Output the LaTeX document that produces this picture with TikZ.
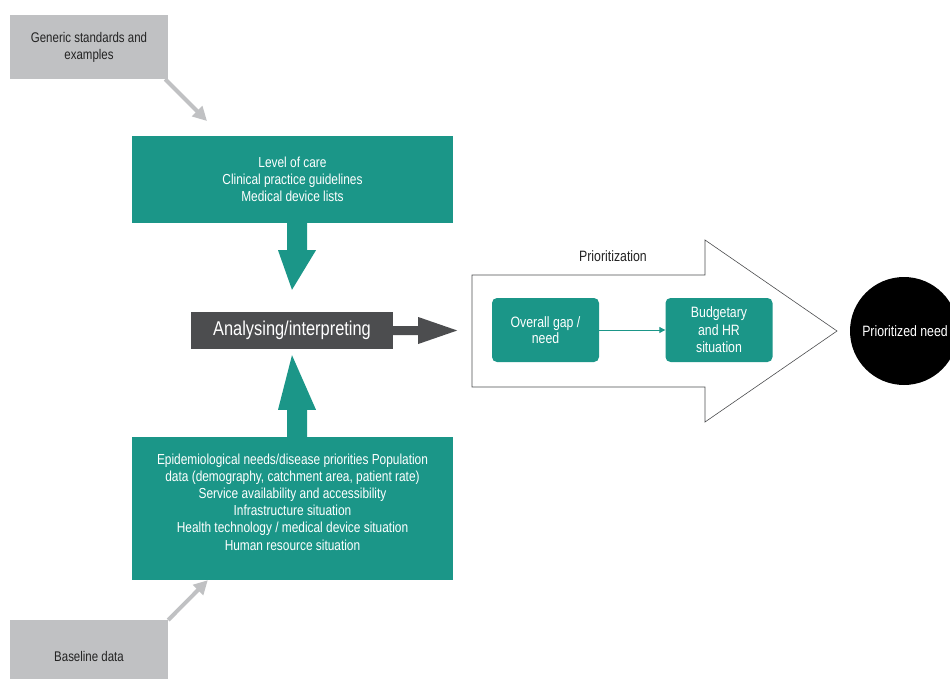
\documentclass[tikz,border=0pt]{standalone}
\usepackage{fontspec}
\setmainfont{Liberation Sans}[FakeStretch=0.82]
\usetikzlibrary{arrows.meta,calc}
\definecolor{tealc}{RGB}{27,150,136}
\definecolor{darkc}{RGB}{76,77,79}
\definecolor{lgray}{RGB}{192,193,195}
\definecolor{txtc}{RGB}{35,35,35}
\tikzset{
  graybox/.style={fill=lgray, draw=none, minimum width=158pt, text=txtc, font=\fontsize{14}{17}\selectfont, align=center, inner sep=0pt},
  tealbox/.style={fill=tealc, draw=none, minimum width=321pt, text=white, font=\fontsize{14.5}{17}\selectfont, align=center, inner sep=0pt},
  roundbox/.style={fill=tealc, draw=none, rounded corners=5pt, minimum width=107pt, minimum height=64pt, text=white, align=center, inner sep=0pt},
  grayarrow/.style={draw=lgray, line width=4pt, -{Triangle[width=14pt,length=14pt]}},
}
\begin{document}
\begin{tikzpicture}[x=1pt,y=-1pt]
\useasboundingbox (0,0) rectangle (950,679);
% gray boxes
\node[graybox, minimum height=64pt] (gen) at (89,47) {Generic standards and\\examples};
\node[graybox, minimum height=64pt, anchor=north] (base) at (89,620) {};
\node[text=txtc, font=\fontsize{14}{17}\selectfont] (basetxt) at (89,656) {Baseline data};
% teal boxes
\node[tealbox, minimum height=87pt] (care) at (292.5,179.5) {Level of care\\Clinical practice guidelines\\Medical device lists};
\node[tealbox, minimum height=143pt] (data) at (292.5,508.5) {};
\node[text=white, font=\fontsize{14.5}{17.2}\selectfont, align=center] (datatxt) at (292.5,502) {Epidemiological needs/disease priorities Population\\data (demography, catchment area, patient rate)\\Service availability and accessibility\\Infrastructure situation\\Health technology / medical device situation\\Human resource situation};
% analysing box
\node[fill=darkc, text=white, minimum width=202pt, minimum height=37pt, inner sep=0pt, font=\fontsize{20}{22}\selectfont] (ana) at (292,330.5) {Analysing/interpreting};
% gray arrows
\coordinate (gtip) at (207,121);
\draw[grayarrow] ($(gen.south east)+(-3,0)$) -- (gtip);
\draw[grayarrow] (base.north east) -- ($(data.south west)+(76,0)$);
% teal down arrow
\fill[tealc] ($(care.south)+(-5.5,0)$) -- ++(0,27) -- ++(-9,0) -- ($(ana.north)+(0,-22)$) -- ($(care.south)+(23.5,27)$) -- ++(-9,0) -- ++(0,-27) -- cycle;
% teal up arrow
\fill[tealc] ($(data.north)+(-5.5,0)$) -- ++(0,-27) -- ++(-9,0) -- ($(ana.south)+(0,6)$) -- ($(data.north)+(23.5,-27)$) -- ++(-9,0) -- ++(0,27) -- cycle;
% dark arrow
\fill[darkc] ($(ana.east)+(0,-4.5)$) -- ++(25,0) -- ++(0,-9) -- ($(ana.east)+(64,0)$) -- ++(-39,13.5) -- ++(0,-9) -- ++(-25,0) -- cycle;
% big hollow arrow
\draw[draw=darkc, line width=0.6pt, fill=white] (472,275) -- (705,275) -- (705,240) -- (837,331) -- (705,422) -- (705,387) -- (472,387) -- cycle;
\node[text=txtc, font=\fontsize{15}{17}\selectfont] (prio) at (613,256) {Prioritization};
\node[roundbox, font=\fontsize{15}{16}\selectfont] (gap) at (545.5,330) {Overall gap /\\need};
\node[roundbox, font=\fontsize{15}{17.5}\selectfont] (budget) at (719,330) {Budgetary\\and HR\\situation};
\draw[draw=tealc, line width=1pt, -{Triangle[width=6pt,length=6pt]}] (gap.east) -- (budget.west);
% circle
\node[circle, fill=black, minimum size=108pt, inner sep=0pt] (need) at (904,331) {};
\node[text=white, font=\fontsize{15}{17}\selectfont] (needtxt) at (905,331) {Prioritized need};
\end{tikzpicture}
\end{document}
